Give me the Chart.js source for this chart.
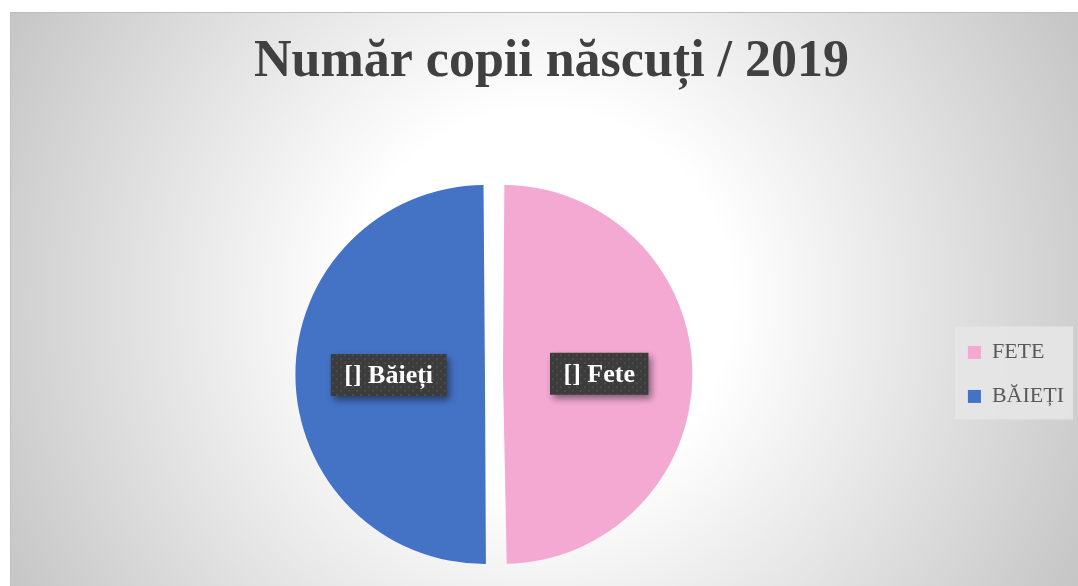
<!DOCTYPE html>
<html lang="ro">
<head>
<meta charset="utf-8">
<title>Număr copii născuți / 2019</title>
<script src="https://cdn.jsdelivr.net/npm/chart.js@4/dist/chart.umd.min.js"></script>
<style>
    html, body {
        margin: 0;
        padding: 0;
        background: #ffffff;
        overflow: hidden;
    }
    #box {
        position: absolute;
        left: 10px;
        top: 12px;
        width: 1078px;
        height: 574px;
        border-top: 1px solid #bdbdbd;
        border-left: 1px solid #c0c0c0;
        background: radial-gradient(circle at 530px 288px, #ffffff 0px, #ffffff 190px, #c6c6c6 600px);
    }
</style>
</head>
<body>
<div id="box">
    <canvas id="chart"></canvas>
</div>
<script>
// Data
const categories = ['FETE', 'BĂIEȚI'];
const births = [49.8, 50.2];
const dataLabels = ['[] Fete', '[] Băieți'];
const sliceColors = ['#F4A9D3', '#4472C4'];

const SERIF = "'Liberation Serif', 'DejaVu Serif', serif";
const SLICE_OFFSET = 36;

// Dotted dark fill used behind the data labels
function makeLabelPattern(ctx) {
    const tile = document.createElement('canvas');
    tile.width = 8;
    tile.height = 8;
    const t = tile.getContext('2d');
    t.fillStyle = '#3c3c3c';
    t.fillRect(0, 0, 8, 8);
    t.fillStyle = '#4a4a4a';
    t.fillRect(1, 1, 2, 2);
    t.fillRect(5, 5, 2, 2);
    return ctx.createPattern(tile, 'repeat');
}

// Light panel behind the legend
const legendPanel = {
    id: 'legendPanel',
    beforeDraw(chart) {
        const boxes = chart.legend && chart.legend.legendHitBoxes;
        if (!boxes || !boxes.length) return;
        const ctx = chart.ctx;
        const left = Math.min(...boxes.map(b => b.left)) - 13;
        const top = Math.min(...boxes.map(b => b.top)) - 15;
        const bottom = Math.max(...boxes.map(b => b.top + b.height)) + 12;
        ctx.save();
        ctx.fillStyle = 'rgba(230, 230, 230, 0.9)';
        ctx.fillRect(left, top, chart.width - 16 - left, bottom - top);
        ctx.restore();
    }
};

// Boxed data labels in the middle of each slice
const sliceLabels = {
    id: 'sliceLabels',
    afterDatasetsDraw(chart) {
        const ctx = chart.ctx;
        const arcs = chart.getDatasetMeta(0).data;
        const pattern = makeLabelPattern(ctx);
        ctx.save();
        ctx.font = 'bold 26px ' + SERIF;
        arcs.forEach((arc, i) => {
            const mid = (arc.startAngle + arc.endAngle) / 2;
            const dist = arc.outerRadius / 2 + SLICE_OFFSET / 4 + 6;
            const cx = arc.x + Math.cos(mid) * dist;
            const cy = arc.y + Math.sin(mid) * dist;
            const text = dataLabels[i];
            const w = ctx.measureText(text).width + 27;
            const h = 42;

            ctx.save();
            ctx.shadowColor = 'rgba(0, 0, 0, 0.45)';
            ctx.shadowBlur = 7;
            ctx.shadowOffsetX = 3;
            ctx.shadowOffsetY = 4;
            ctx.fillStyle = pattern;
            ctx.fillRect(cx - w / 2, cy - h / 2, w, h);
            ctx.restore();

            ctx.fillStyle = '#ffffff';
            ctx.textAlign = 'center';
            ctx.textBaseline = 'middle';
            ctx.fillText(text, cx, cy + 1);
        });
        ctx.restore();
    }
};

const chart = new Chart(document.getElementById('chart'), {
    type: 'pie',
    data: {
        labels: categories,
        datasets: [{
            data: births,
            backgroundColor: sliceColors,
            borderWidth: 0,
            offset: SLICE_OFFSET
        }]
    },
    options: {
        responsive: true,
        maintainAspectRatio: false,
        animation: false,
        layout: {
            padding: { left: 31, right: 15, top: 0, bottom: 14 }
        },
        plugins: {
            title: {
                display: true,
                // trailing no-break space nudges the centred title a little to the left
                text: 'Număr copii născuți / 2019\u00a0',
                color: '#404040',
                font: { family: SERIF, size: 52, weight: 'bold', lineHeight: 1.2 },
                padding: { top: 18, bottom: 82.5 }
            },
            legend: {
                position: 'right',
                fullSize: false,
                labels: {
                    color: '#595959',
                    font: { family: SERIF, size: 22 },
                    boxWidth: 13,
                    boxHeight: 13,
                    padding: 22
                }
            },
            tooltip: { enabled: false }
        }
    },
    plugins: [legendPanel, sliceLabels]
});
</script>
</body>
</html>
